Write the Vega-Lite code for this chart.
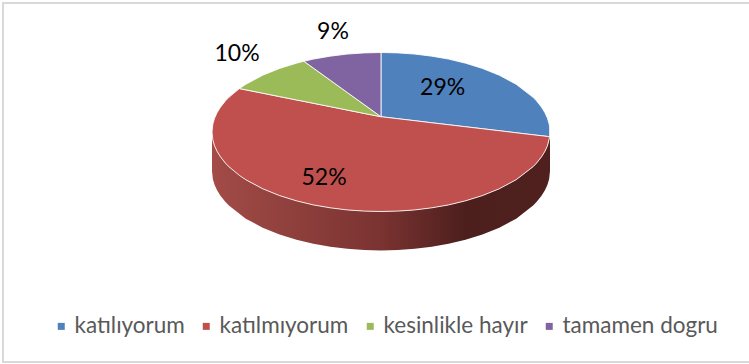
{
"$schema":"https://vega.github.io/schema/vega-lite/v6.json",
"width":760,"height":359,
"autosize":{"type":"none"},
"padding":{"left":3,"top":3,"right":0,"bottom":2},
"background":"white",
"view":{"stroke":"#d9d9d9","strokeWidth":2,"fill":"white"},
"datasets":{
"side":[
{"u":-1,"v":-0.49,"v2":0},{"u":-0.995,"v":-0.59,"v2":-0.1},{"u":-0.985,"v":-0.663,"v2":-0.173},{"u":-0.97,"v":-0.733,"v2":-0.243},{"u":-0.95,"v":-0.802,"v2":-0.312},{"u":-0.92,"v":-0.882,"v2":-0.392},{"u":-0.9,"v":-0.926,"v2":-0.436},{"u":-0.8,"v":-1.09,"v2":-0.6},{"u":-0.7,"v":-1.204,"v2":-0.714},{"u":-0.6,"v":-1.29,"v2":-0.8},{"u":-0.5,"v":-1.356,"v2":-0.866},{"u":-0.4,"v":-1.407,"v2":-0.917},{"u":-0.3,"v":-1.444,"v2":-0.954},{"u":-0.2,"v":-1.47,"v2":-0.98},{"u":-0.1,"v":-1.485,"v2":-0.995},{"u":0,"v":-1.49,"v2":-1},{"u":0.1,"v":-1.485,"v2":-0.995},{"u":0.2,"v":-1.47,"v2":-0.98},{"u":0.3,"v":-1.444,"v2":-0.954},{"u":0.4,"v":-1.407,"v2":-0.917},{"u":0.5,"v":-1.356,"v2":-0.866},{"u":0.6,"v":-1.29,"v2":-0.8},{"u":0.7,"v":-1.204,"v2":-0.714},{"u":0.8,"v":-1.09,"v2":-0.6},{"u":0.9,"v":-0.926,"v2":-0.436},{"u":0.92,"v":-0.882,"v2":-0.392},{"u":0.95,"v":-0.802,"v2":-0.312},{"u":0.97,"v":-0.733,"v2":-0.243},{"u":0.985,"v":-0.663,"v2":-0.173},{"u":0.995,"v":-0.59,"v2":-0.1},{"u":1,"v":-0.49,"v2":0}
],
"faces":[
{"slice":"katılıyorum","u":0,"v":0.192,"v2":1},{"slice":"katılıyorum","u":0.1,"v":0.167,"v2":0.995},{"slice":"katılıyorum","u":0.2,"v":0.142,"v2":0.98},{"slice":"katılıyorum","u":0.3,"v":0.116,"v2":0.954},{"slice":"katılıyorum","u":0.4,"v":0.091,"v2":0.917},{"slice":"katılıyorum","u":0.5,"v":0.066,"v2":0.866},{"slice":"katılıyorum","u":0.6,"v":0.041,"v2":0.8},{"slice":"katılıyorum","u":0.7,"v":0.016,"v2":0.714},{"slice":"katılıyorum","u":0.8,"v":-0.01,"v2":0.6},{"slice":"katılıyorum","u":0.9,"v":-0.035,"v2":0.436},{"slice":"katılıyorum","u":0.92,"v":-0.04,"v2":0.392},{"slice":"katılıyorum","u":0.95,"v":-0.047,"v2":0.312},{"slice":"katılıyorum","u":0.97,"v":-0.052,"v2":0.243},{"slice":"katılıyorum","u":0.985,"v":-0.056,"v2":0.173},{"slice":"katılıyorum","u":0.995,"v":-0.059,"v2":0.1},{"slice":"katılıyorum","u":0.998,"v":-0.06,"v2":0.063},
{"slice":"katılmıyorum","u":-1,"v":0,"v2":0},{"slice":"katılmıyorum","u":-0.995,"v":0.1,"v2":-0.1},{"slice":"katılmıyorum","u":-0.985,"v":0.173,"v2":-0.173},{"slice":"katılmıyorum","u":-0.97,"v":0.243,"v2":-0.243},{"slice":"katılmıyorum","u":-0.95,"v":0.312,"v2":-0.312},{"slice":"katılmıyorum","u":-0.92,"v":0.392,"v2":-0.392},{"slice":"katılmıyorum","u":-0.9,"v":0.436,"v2":-0.436},{"slice":"katılmıyorum","u":-0.838,"v":0.546,"v2":-0.546},{"slice":"katılmıyorum","u":-0.8,"v":0.53,"v2":-0.6},{"slice":"katılmıyorum","u":-0.7,"v":0.488,"v2":-0.714},{"slice":"katılmıyorum","u":-0.6,"v":0.445,"v2":-0.8},{"slice":"katılmıyorum","u":-0.5,"v":0.403,"v2":-0.866},{"slice":"katılmıyorum","u":-0.4,"v":0.361,"v2":-0.917},{"slice":"katılmıyorum","u":-0.3,"v":0.319,"v2":-0.954},{"slice":"katılmıyorum","u":-0.2,"v":0.276,"v2":-0.98},{"slice":"katılmıyorum","u":-0.1,"v":0.234,"v2":-0.995},{"slice":"katılmıyorum","u":0,"v":0.192,"v2":-1},{"slice":"katılmıyorum","u":0.1,"v":0.167,"v2":-0.995},{"slice":"katılmıyorum","u":0.2,"v":0.142,"v2":-0.98},{"slice":"katılmıyorum","u":0.3,"v":0.116,"v2":-0.954},{"slice":"katılmıyorum","u":0.4,"v":0.091,"v2":-0.917},{"slice":"katılmıyorum","u":0.5,"v":0.066,"v2":-0.866},{"slice":"katılmıyorum","u":0.6,"v":0.041,"v2":-0.8},{"slice":"katılmıyorum","u":0.7,"v":0.016,"v2":-0.714},{"slice":"katılmıyorum","u":0.8,"v":-0.01,"v2":-0.6},{"slice":"katılmıyorum","u":0.9,"v":-0.035,"v2":-0.436},{"slice":"katılmıyorum","u":0.92,"v":-0.04,"v2":-0.392},{"slice":"katılmıyorum","u":0.95,"v":-0.047,"v2":-0.312},{"slice":"katılmıyorum","u":0.97,"v":-0.052,"v2":-0.243},{"slice":"katılmıyorum","u":0.985,"v":-0.056,"v2":-0.173},{"slice":"katılmıyorum","u":0.998,"v":-0.06,"v2":-0.063},
{"slice":"kesinlikle hayır","u":-0.838,"v":0.546,"v2":0.546},{"slice":"kesinlikle hayır","u":-0.8,"v":0.53,"v2":0.6},{"slice":"kesinlikle hayır","u":-0.7,"v":0.488,"v2":0.714},{"slice":"kesinlikle hayır","u":-0.6,"v":0.445,"v2":0.8},{"slice":"kesinlikle hayır","u":-0.5,"v":0.403,"v2":0.866},{"slice":"kesinlikle hayır","u":-0.456,"v":0.385,"v2":0.89},{"slice":"kesinlikle hayır","u":-0.4,"v":0.361,"v2":0.804},{"slice":"kesinlikle hayır","u":-0.3,"v":0.319,"v2":0.651},{"slice":"kesinlikle hayır","u":-0.2,"v":0.276,"v2":0.498},{"slice":"kesinlikle hayır","u":-0.1,"v":0.234,"v2":0.345},{"slice":"kesinlikle hayır","u":0,"v":0.192,"v2":0.192},
{"slice":"tamamen dogru","u":-0.456,"v":0.89,"v2":0.89},{"slice":"tamamen dogru","u":-0.4,"v":0.804,"v2":0.917},{"slice":"tamamen dogru","u":-0.3,"v":0.651,"v2":0.954},{"slice":"tamamen dogru","u":-0.2,"v":0.498,"v2":0.98},{"slice":"tamamen dogru","u":-0.1,"v":0.345,"v2":0.995},{"slice":"tamamen dogru","u":0,"v":0.192,"v2":1}
],
"labels":[
{"slice":"katılıyorum","share":0.29,"u":0.365,"v":0.553},
{"slice":"katılmıyorum","share":0.52,"u":-0.337,"v":-0.579},
{"slice":"kesinlikle hayır","share":0.10,"u":-0.852,"v":0.981},
{"slice":"tamamen dogru","share":0.09,"u":-0.284,"v":1.258}
]
},
"data":{"name":"faces"},
"layer":[
{"data":{"name":"side"},
 "mark":{"type":"area","fill":{"x1":0,"y1":0,"x2":1,"y2":0,"gradient":"linear","stops":[{"offset":0,"color":"#a24b47"},{"offset":0.5,"color":"#7a3331"},{"offset":0.75,"color":"#4c1f1d"},{"offset":1,"color":"#4f201e"}]}},
 "encoding":{
  "x":{"field":"u","type":"quantitative","scale":{"domain":[-2.2367,2.2604],"nice":false,"zero":false},"axis":null},
  "y":{"field":"v","type":"quantitative","scale":{"domain":[-2.8931,1.6226],"nice":false,"zero":false},"axis":null},
  "y2":{"field":"v2"}
 }},
{"mark":{"type":"area","stroke":"#ffffff","strokeWidth":1,"strokeOpacity":0.85},
 "encoding":{
  "x":{"field":"u","type":"quantitative","axis":null},
  "y":{"field":"v","type":"quantitative","axis":null},
  "y2":{"field":"v2"},
  "color":{"field":"slice","type":"nominal","sort":["katılıyorum","katılmıyorum","kesinlikle hayır","tamamen dogru"],
   "scale":{"domain":["katılıyorum","katılmıyorum","kesinlikle hayır","tamamen dogru"],"range":["#4f81bd","#c0504d","#9bbb59","#8064a2"]},
   "legend":{"title":null,"orient":"none","direction":"horizontal","columns":4,"legendX":47,"legendY":312,"symbolType":"square","symbolSize":49,"symbolStrokeWidth":0,"labelFont":"Lato","labelFontSize":22.5,"labelColor":"#595959","labelOffset":2,"columnPadding":10,"labelLimit":300}
  }
 }},
{"data":{"name":"labels"},
 "mark":{"type":"text","font":"Lato","fontSize":23,"color":"#000000","align":"center","baseline":"middle"},
 "encoding":{
  "x":{"field":"u","type":"quantitative","axis":null},
  "y":{"field":"v","type":"quantitative","axis":null},
  "text":{"field":"share","type":"quantitative","format":".0%"}
 }}
]
}
